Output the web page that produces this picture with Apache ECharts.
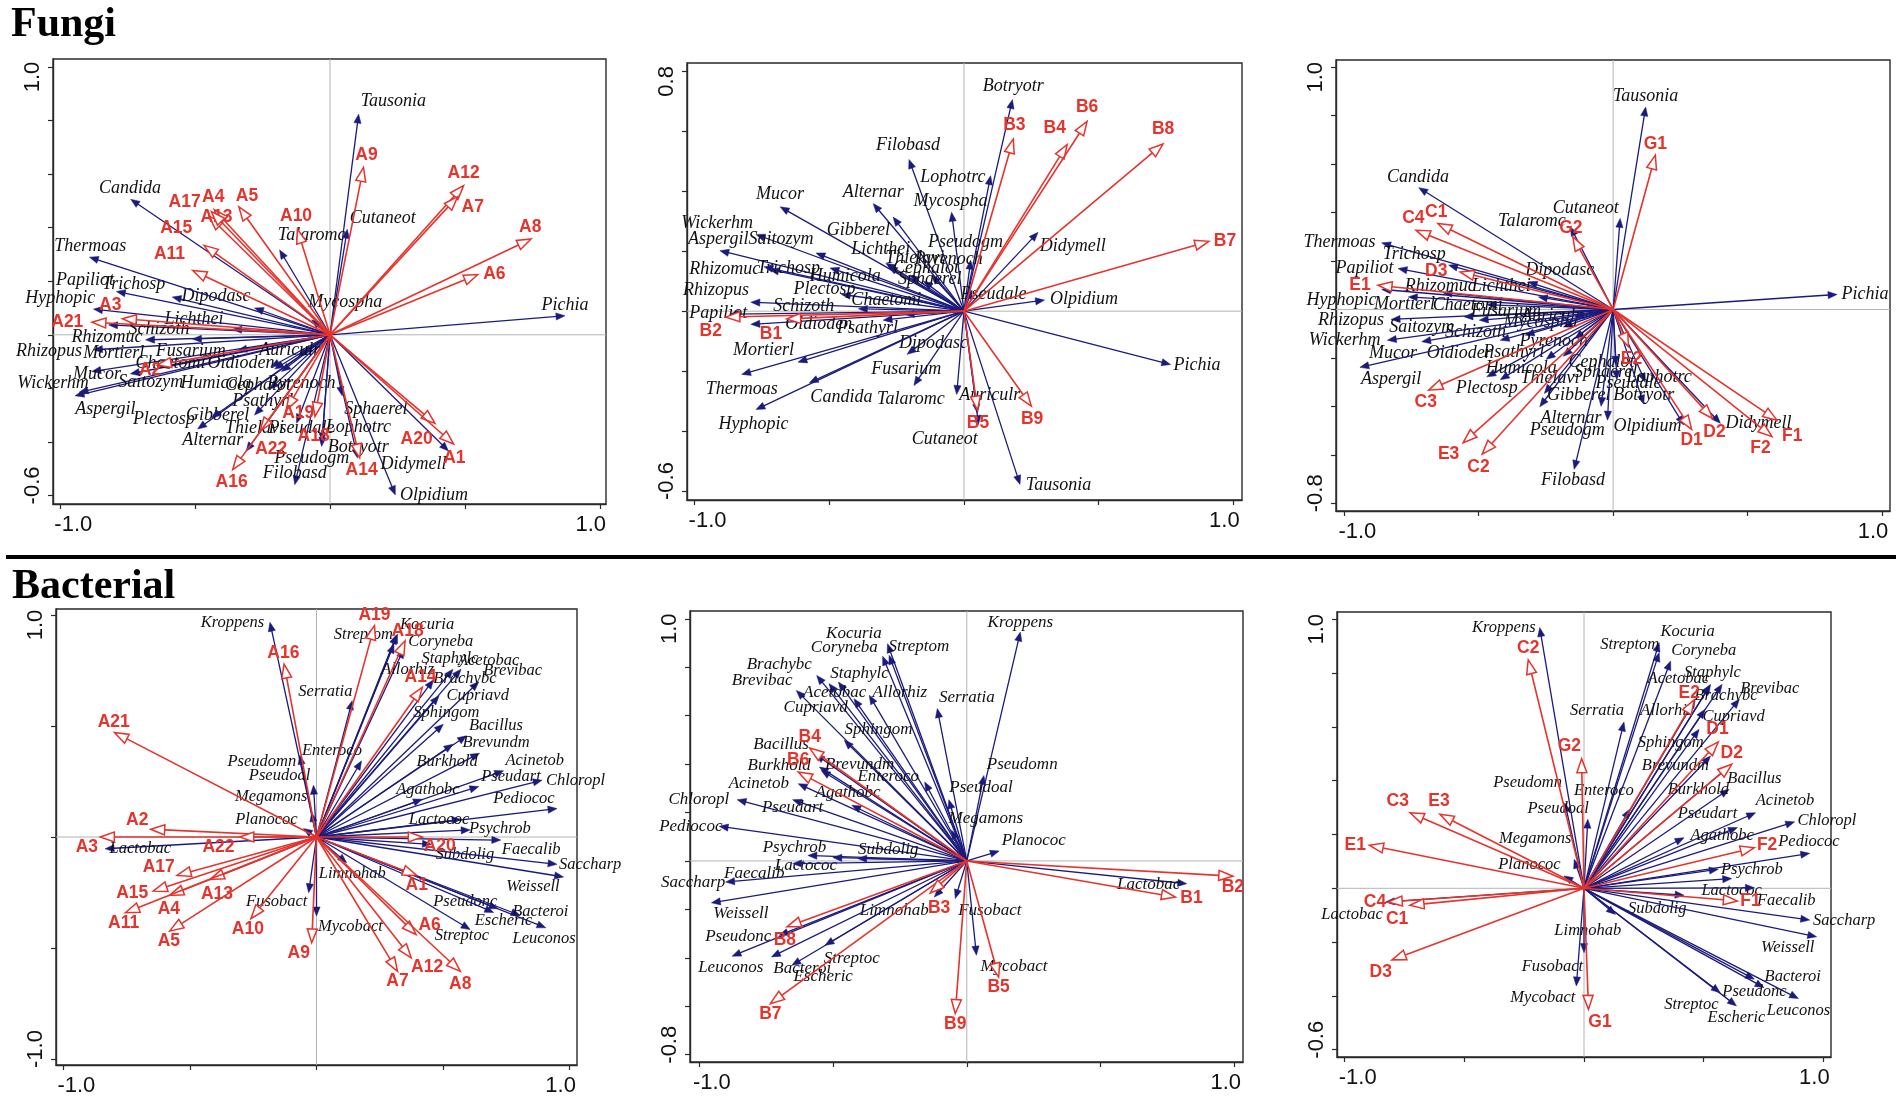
<!DOCTYPE html>
<html>
<head>
<meta charset="utf-8">
<script src="https://cdn.jsdelivr.net/npm/echarts@6/dist/echarts.min.js"></script>
<style>
html,body{margin:0;padding:0;background:#fff;}
#chart{width:1902px;height:1100px;}
</style>
</head>
<body>
<div id="chart"></div>
<script>
// ---------------- DATA ----------------
// Tick values shared by all panels on x
const xTickValues = [-1, -0.5, 0, 0.5, 1];
const xLabelValues = [-1, 1];

// Panel 1 (Fungi, group A) — species arrows [name, x, y]
const p1Species = [
  ['Tausonia',0.106,0.824],['Candida',-0.739,0.506],['Cutaneot',0.064,0.394],['Talaromc',-0.187,0.317],
  ['Mycospha',-0.068,0.056],['Pichia',0.871,0.071],['Olpidium',0.242,-0.598],['Didymell',0.439,-0.434],
  ['Sphaerel',0.045,-0.228],['Lophotrc',-0.03,-0.40],['Botryotr',0.102,-0.46],['Pseudogm',-0.031,-0.417],
  ['Filobasd',-0.131,-0.560],['Alternar',-0.491,-0.352],['Psathyrl',-0.224,-0.203],['Gibberel',-0.28,-0.30],
  ['Plectosp',-0.44,-0.31],['Thielavi',-0.311,-0.435],['Pseudale',-0.124,-0.330],['Aspergil',-0.945,-0.228],
  ['Wickerhm',-0.93,-0.215],['Mucor',-0.883,-0.137],['Saitozym',-0.740,-0.146],['Chaetomi',-0.63,-0.12],
  ['Rhizopus',-0.877,-0.056],['Mortierl',-0.51,-0.016],['Fusarium',-0.342,-0.058],['Oidioden',-0.205,-0.128],
  ['Humicola',-0.180,-0.137],['Cephalot',-0.22,-0.12],['Pyrenoch',-0.118,-0.081],['Auriculr',-0.10,-0.07],
  ['Rhizomuc',-0.684,-0.019],['Schizoth',-0.821,0.037],['Lichthei',-0.361,0.021],['Hyphopic',-0.877,0.096],
  ['Papiliot',-0.792,0.162],['Trichosp',-0.585,0.141],['Dipodasc',-0.280,0.100],['Thermoas',-0.892,0.290]
];
const p1SpeciesLabelAt = [
  [0.235,0.872],[-0.742,0.548],[0.195,0.436],[-0.068,0.373],
  [0.056,0.122],[0.871,0.112],[0.385,-0.601],[0.309,-0.485],
  [0.170,-0.280],[0.105,-0.344],[0.105,-0.421],[-0.068,-0.460],
  [-0.131,-0.519],[-0.435,-0.394],[-0.249,-0.249],[-0.417,-0.299],
  [-0.616,-0.315],[-0.280,-0.348],[-0.106,-0.348],[-0.833,-0.280],
  [-1.027,-0.181],[-0.864,-0.146],[-0.665,-0.178],[-0.591,-0.108],
  [-1.042,-0.062],[-0.802,-0.068],[-0.516,-0.062],[-0.330,-0.108],
  [-0.423,-0.180],[-0.267,-0.187],[-0.106,-0.180],[-0.149,-0.056],
  [-0.827,-0.009],[-0.634,0.019],[-0.504,0.058],[-1.0,0.135],
  [-0.908,0.205],[-0.728,0.187],[-0.423,0.143],[-0.889,0.332]
];
const p1Samples = [
  ['A9',0.124,0.625],['A12',0.495,0.557],['A7',0.473,0.516],['A8',0.745,0.358],['A6',0.548,0.225],
  ['A10',-0.121,0.394],['A5',-0.338,0.478],['A4',-0.429,0.467],['A13',-0.448,0.442],['A17',-0.44,0.46],
  ['A15',-0.467,0.334],['A11',-0.509,0.240],['A3',-0.770,0.060],['A21',-0.883,0.047],['A2',-0.641,-0.113],
  ['A19',-0.162,-0.280],['A18',-0.056,-0.305],['A22',-0.26,-0.36],['A16',-0.361,-0.504],['A14',0.11,-0.46],
  ['A20',0.389,-0.331],['A1',0.458,-0.408]
];
const p1SampleLabelAt = [
  [0.135,0.670],[0.495,0.603],[0.529,0.478],[0.742,0.403],[0.609,0.227],
  [-0.126,0.442],[-0.308,0.519],[-0.433,0.513],[-0.421,0.439],[-0.539,0.497],
  [-0.570,0.397],[-0.595,0.300],[-0.815,0.112],[-0.974,0.047],[-0.667,-0.132],
  [-0.118,-0.292],[-0.061,-0.380],[-0.218,-0.427],[-0.365,-0.549],[0.117,-0.504],
  [0.321,-0.389],[0.461,-0.460]
];

// Panel 2 (Fungi, group B)
const p2Species = [
  ['Botryotr',0.180,0.706],['Filobasd',-0.204,0.506],['Lophotrc',0.099,0.452],['Mycospha',-0.046,0.330],
  ['Alternar',-0.337,0.359],['Mucor',-0.682,0.348],['Gibberel',-0.263,0.314],['Didymell',0.275,0.263],
  ['Pseudogm',0.025,0.17],['Wickerhm',-0.772,0.256],['Aspergil',-0.906,0.202],['Saitozym',-0.549,0.194],
  ['Lichthei',-0.29,0.16],['Thielavi',-0.281,0.150],['Pyrenoch',-0.12,0.12],['Cephalot',-0.20,0.12],
  ['Sphaerel',-0.15,0.10],['Trichosp',-0.721,0.139],['Rhizomuc',-0.742,0.148],['Humicola',-0.497,0.144],
  ['Plectosp',-0.455,0.056],['Rhizopus',-0.791,0.030],['Schizoth',-0.392,0.008],['Chaetomi',-0.218,-0.011],
  ['Psathyrl',-0.30,-0.03],['Pseudale',0.03,0.07],['Olpidium',0.299,0.037],['Papiliot',-0.87,-0.01],
  ['Oidioden',-0.791,-0.044],['Dipodasc',-0.211,-0.144],['Mortierl',-0.616,-0.170],['Thermoas',-0.825,-0.211],
  ['Fusarium',-0.186,-0.248],['Candida',-0.574,-0.239],['Hyphopic',-0.772,-0.328],['Talaromc',-0.027,-0.278],
  ['Auriculr',0.05,-0.34],['Cutaneot',0.054,-0.378],['Tausonia',0.208,-0.578],['Pichia',0.767,-0.178]
];
const p2SpeciesLabelAt = [
  [0.183,0.750],[-0.208,0.552],[-0.041,0.447],[-0.050,0.367],
  [-0.337,0.397],[-0.683,0.389],[-0.392,0.270],[0.404,0.217],
  [0.006,0.230],[-0.916,0.294],[-0.912,0.239],[-0.679,0.239],
  [-0.309,0.206],[-0.183,0.178],[-0.057,0.172],[-0.141,0.144],
  [-0.127,0.106],[-0.651,0.144],[-0.888,0.141],[-0.441,0.117],
  [-0.518,0.072],[-0.920,0.070],[-0.595,0.017],[-0.288,0.037],
  [-0.358,-0.056],[0.110,0.056],[0.446,0.039],[-0.912,-0.008],
  [-0.539,-0.044],[-0.113,-0.106],[-0.744,-0.131],[-0.825,-0.259],
  [-0.214,-0.194],[-0.455,-0.286],[-0.781,-0.378],[-0.197,-0.294],
  [0.096,-0.280],[-0.071,-0.428],[0.351,-0.581],[0.865,-0.181]
];
const p2Samples = [
  ['B3',0.183,0.574],['B4',0.383,0.556],['B6',0.457,0.633],['B8',0.739,0.558],['B7',0.909,0.233],
  ['B9',0.250,-0.317],['B5',0.05,-0.33],['B2',-0.884,-0.020],['B1',-0.658,-0.026]
];
const p2SampleLabelAt = [
  [0.187,0.619],[0.337,0.611],[0.457,0.680],[0.739,0.606],[0.969,0.233],
  [0.253,-0.361],[0.052,-0.375],[-0.940,-0.067],[-0.716,-0.076]
];

// Panel 3 (Fungi, groups C–G)
const p3Species = [
  ['Tausonia',0.121,0.836],['Candida',-0.723,0.503],['Cutaneot',0.026,0.376],['Talaromc',-0.159,0.341],
  ['Thermoas',-0.861,0.275],['Trichosp',-0.612,0.183],['Papiliot',-0.800,0.169],['Dipodasc',-0.316,0.114],
  ['Lichthei',-0.278,0.052],['Rhizomuc',-0.633,0.069],['Hyphopic',-0.861,0.083],['Mortierl',-0.762,0.052],
  ['Chaetomi',-0.47,0.02],['Pichia',0.833,0.062],['Rhizopus',-0.826,-0.041],['Fusarium',-0.555,-0.030],
  ['Saitozym',-0.498,-0.044],['Mycospha',-0.185,-0.072],['Auriculr',-0.142,-0.030],['Schizoth',-0.420,-0.127],
  ['Wickerhm',-0.840,-0.127],['Mucor',-0.712,-0.133],['Oidioden',-0.327,-0.106],['Pyrenoch',-0.142,-0.120],
  ['Psathyrl',-0.249,-0.206],['Aspergil',-0.942,-0.239],['Humicola',-0.470,-0.278],['Cephalot',-0.185,-0.193],
  ['Thielavi',-0.256,-0.347],['Sphaerel',0.01,-0.23],['Pseudale',0.014,-0.29],['Lophotrc',0.12,-0.30],
  ['Plectosp',-0.42,-0.29],['Gibberel',-0.273,-0.402],['Botryotr',0.114,-0.391],['Alternar',-0.021,-0.457],
  ['Pseudogm',-0.045,-0.40],['Olpidium',0.263,-0.477],['Didymell',0.399,-0.470],['Filobasd',-0.145,-0.660]
];
const p3SpeciesLabelAt = [
  [0.121,0.880],[-0.726,0.547],[-0.102,0.417],[-0.302,0.366],
  [-1.018,0.276],[-0.740,0.228],[-0.925,0.169],[-0.199,0.160],
  [-0.416,0.096],[-0.643,0.094],[-1.011,0.039],[-0.776,0.022],
  [-0.541,0.018],[0.937,0.062],[-0.975,-0.044],[-0.399,-0.006],
  [-0.712,-0.072],[-0.270,-0.051],[-0.228,-0.030],[-0.512,-0.096],
  [-0.999,-0.127],[-0.819,-0.179],[-0.569,-0.179],[-0.221,-0.133],
  [-0.370,-0.175],[-0.826,-0.289],[-0.342,-0.243],[-0.043,-0.216],
  [-0.235,-0.285],[-0.028,-0.261],[0.057,-0.305],[0.171,-0.278],
  [-0.470,-0.326],[-0.128,-0.354],[0.114,-0.354],[-0.157,-0.450],
  [-0.171,-0.498],[0.128,-0.484],[0.541,-0.470],[-0.149,-0.704]
];
const p3Samples = [
  ['G1',0.157,0.637],['G2',-0.15,0.30],['C4',-0.733,0.327],['C1',-0.652,0.355],['D3',-0.569,0.155],
  ['E1',-0.875,0.100],['C3',-0.686,-0.333],['E3',-0.558,-0.550],['C2',-0.487,-0.597],['E2',0.057,-0.154],
  ['D1',0.292,-0.495],['D2',0.370,-0.450],['F1',0.609,-0.457],['F2',0.591,-0.525]
];
const p3SampleLabelAt = [
  [0.157,0.681],[-0.157,0.335],[-0.743,0.378],[-0.658,0.400],[-0.658,0.160],
  [-0.942,0.100],[-0.697,-0.384],[-0.612,-0.597],[-0.501,-0.649],[0.068,-0.206],
  [0.292,-0.539],[0.377,-0.505],[0.666,-0.523],[0.548,-0.574]
];

// Panel 4 (Bacterial, group A)
const p4Species = [
  ['Kroppens',-0.184,0.967],['Streptom',0.316,0.910],['Kocuria',0.320,0.914],['Coryneba',0.345,0.847],
  ['Allorhiz',0.306,0.869],['Staphylc',0.539,0.756],['Acetobac',0.571,0.756],['Brevibac',0.641,0.699],
  ['Brachybc',0.462,0.708],['Cupriavd',0.484,0.636],['Serratia',0.141,0.614],['Sphingom',0.501,0.508],
  ['Bacillus',0.593,0.456],['Brevundm',0.644,0.377],['Burkhold',0.539,0.418],['Enteroco',0.178,0.343],
  ['Acinetob',0.739,0.298],['Pseudomn',-0.066,0.368],['Pseudart',0.641,0.227],['Chloropl',0.891,0.256],
  ['Pseudoal',-0.012,0.233],['Agathobc',0.418,0.170],['Megamons',-0.019,0.110],['Pediococ',0.950,0.128],
  ['Lactococ',0.571,0.080],['Planococ',-0.052,0.038],['Psychrob',0.607,0.032],['Faecalib',0.728,-0.014],
  ['Subdolig',0.454,-0.033],['Lactobac',-0.835,-0.053],['Saccharp',0.950,-0.123],['Weissell',0.976,-0.180],
  ['Limnohab',0.119,-0.116],['Pseudonc',0.717,-0.323],['Bacteroi',0.804,-0.353],['Escheric',0.70,-0.34],
  ['Leuconos',0.906,-0.409],['Streptoc',0.607,-0.417],['Fusobact',-0.031,-0.251],['Mycobact',0.0,-0.356]
];
const p4SpeciesLabelAt = [
  [-0.332,0.967],[0.185,0.910],[0.437,0.955],[0.491,0.881],
  [0.360,0.756],[0.527,0.805],[0.680,0.794],[0.775,0.749],
  [0.586,0.711],[0.637,0.636],[0.035,0.656],[0.513,0.561],
  [0.709,0.501],[0.709,0.423],[0.516,0.338],[0.061,0.388],
  [0.862,0.343],[-0.216,0.338],[0.768,0.272],[1.023,0.256],
  [-0.146,0.278],[0.440,0.215],[-0.179,0.182],[0.819,0.173],
  [0.484,0.077],[-0.198,0.080],[0.724,0.038],[0.848,-0.059],
  [0.586,-0.078],[-0.696,-0.053],[1.081,-0.126],[0.855,-0.224],
  [0.141,-0.165],[0.588,-0.289],[0.884,-0.338],[0.739,-0.379],
  [0.899,-0.457],[0.574,-0.444],[-0.157,-0.289],[0.134,-0.406]
];
const p4Samples = [
  ['A19',0.229,0.952],['A18',0.350,0.884],['A16',-0.128,0.779],['A14',0.418,0.674],['A21',-0.798,0.471],
  ['A2',-0.655,0.035],['A3',-0.854,0.0],['A22',-0.303,0.0],['A20',0.418,0.0],['A17',-0.551,-0.173],
  ['A15',-0.645,-0.244],['A4',-0.580,-0.263],['A13',-0.420,-0.191],['A11',-0.755,-0.341],['A5',-0.580,-0.424],
  ['A10',-0.259,-0.368],['A9',-0.019,-0.477],['A1',0.396,-0.173],['A6',0.393,-0.439],['A7',0.320,-0.605],
  ['A12',0.374,-0.544],['A8',0.568,-0.605]
];
const p4SampleLabelAt = [
  [0.229,0.997],[0.360,0.925],[-0.131,0.829],[0.411,0.719],[-0.801,0.519],
  [-0.708,0.077],[-0.907,-0.048],[-0.387,-0.044],[0.487,-0.041],[-0.623,-0.135],
  [-0.728,-0.251],[-0.583,-0.323],[-0.393,-0.259],[-0.762,-0.386],[-0.583,-0.469],
  [-0.271,-0.417],[-0.070,-0.522],[0.396,-0.218],[0.447,-0.398],[0.320,-0.650],
  [0.437,-0.585],[0.568,-0.662]
];

// Panel 5 (Bacterial, group B)
const p5Species = [
  ['Kroppens',0.2,0.945],['Kocuria',-0.29,0.849],['Streptom',-0.296,0.897],['Coryneba',-0.314,0.845],
  ['Staphylc',-0.479,0.739],['Brachybc',-0.560,0.766],['Brevibac',-0.636,0.704],['Acetobac',-0.514,0.732],
  ['Allorhiz',-0.364,0.684],['Cupriavd',-0.421,0.670],['Serratia',-0.11,0.629],['Sphingom',-0.457,0.498],
  ['Bacillus',-0.564,0.440],['Burkhold',-0.55,0.388],['Brevundm',-0.543,0.374],['Enteroco',-0.157,0.326],
  ['Pseudomn',0.064,0.353],['Acinetob',-0.629,0.319],['Agathobc',-0.429,0.230],['Pseudoal',-0.067,0.253],
  ['Pseudart',-0.65,0.253],['Chloropl',-0.857,0.253],['Pediococ',-0.924,0.143],['Megamons',-0.057,0.127],
  ['Planococ',0.121,0.041],['Psychrob',-0.593,0.023],['Subdolig',-0.407,0.010],['Lactococ',-0.5,0.014],
  ['Faecalib',-0.65,-0.011],['Saccharp',-0.9,-0.087],['Weissell',-0.953,-0.173],['Lactobac',0.821,-0.094],
  ['Limnohab',-0.121,-0.149],['Fusobact',-0.043,-0.155],['Pseudonc',-0.7,-0.307],['Leuconos',-0.876,-0.393],
  ['Bacteroi',-0.729,-0.396],['Streptoc',-0.529,-0.348],['Escheric',-0.653,-0.431],['Mycobact',0.036,-0.389]
];
const p5SpeciesLabelAt = [
  [0.2,0.986],[-0.421,0.938],[-0.179,0.887],[-0.457,0.883],
  [-0.4,0.773],[-0.7,0.812],[-0.764,0.746],[-0.493,0.697],
  [-0.25,0.697],[-0.564,0.633],[0,0.674],[-0.329,0.542],
  [-0.693,0.481],[-0.7,0.395],[-0.4,0.399],[-0.293,0.349],
  [0.207,0.399],[-0.776,0.319],[-0.443,0.281],[0.053,0.305],
  [-0.65,0.220],[-1.0,0.253],[-1.03,0.143],[0.071,0.175],
  [0.25,0.083],[-0.643,0.055],[-0.293,0.047],[-0.6,-0.018],
  [-0.793,-0.052],[-1.021,-0.091],[-0.843,-0.215],[0.679,-0.096],
  [-0.271,-0.204],[0.086,-0.204],[-0.853,-0.311],[-0.881,-0.44],
  [-0.614,-0.444],[-0.429,-0.403],[-0.536,-0.479],[0.176,-0.437]
];
const p5Samples = [
  ['B4',-0.586,0.466],['B6',-0.629,0.367],['B8',-0.671,-0.272],['B7',-0.733,-0.589],['B3',-0.136,-0.132],
  ['B9',-0.043,-0.630],['B5',0.119,-0.479],['B1',0.779,-0.149],['B2',0.993,-0.063]
];
const p5SampleLabelAt = [
  [-0.586,0.512],[-0.629,0.415],[-0.679,-0.327],[-0.733,-0.634],[-0.103,-0.193],
  [-0.043,-0.674],[0.119,-0.52],[0.839,-0.155],[0.993,-0.107]
];

// Panel 6 (Bacterial, groups C–G)
const p6Species = [
  ['Kroppens',-0.185,0.969],['Streptom',0.314,0.913],['Kocuria',0.314,0.876],['Coryneba',0.362,0.845],
  ['Acetobac',0.529,0.758],['Staphylc',0.525,0.752],['Brachybc',0.577,0.758],['Brevibac',0.649,0.703],
  ['Allorhiz',0.465,0.703],['Cupriavd',0.505,0.665],['Serratia',0.167,0.618],['Sphingom',0.481,0.591],
  ['Brevundm',0.529,0.492],['Bacillus',0.601,0.449],['Burkhold',0.606,0.368],['Enteroco',0.191,0.294],
  ['Pseudomn',-0.080,0.318],['Pseudoal',0.016,0.257],['Acinetob',0.717,0.281],['Pseudart',0.641,0.226],
  ['Chloropl',0.880,0.247],['Agathobc',0.418,0.188],['Megamons',-0.041,0.108],['Pediococ',0.943,0.130],
  ['Planococ',-0.084,0.046],['Psychrob',0.561,0.071],['Lactococ',0.617,0.036],['Faecalib',0.712,0.002],
  ['Subdolig',0.418,-0.026],['Saccharp',0.943,-0.118],['Weissell',0.972,-0.180],['Lactobac',-0.829,-0.051],
  ['Limnohab',0.131,-0.097],['Fusobact',0.0,-0.239],['Mycobact',-0.032,-0.363],['Bacteroi',0.712,-0.338],
  ['Pseudonc',0.752,-0.369],['Leuconos',0.896,-0.410],['Streptoc',0.569,-0.388],['Escheric',0.637,-0.437]
];
const p6SpeciesLabelAt = [
  [-0.335,0.969],[0.191,0.907],[0.433,0.954],[0.5,0.882],
  [0.394,0.781],[0.537,0.802],[0.593,0.715],[0.776,0.742],
  [0.346,0.659],[0.625,0.638],[0.054,0.659],[0.362,0.541],
  [0.382,0.455],[0.712,0.409],[0.478,0.368],[0.083,0.362],
  [-0.236,0.393],[-0.108,0.296],[0.840,0.325],[0.516,0.279],
  [1.015,0.250],[0.577,0.195],[-0.204,0.186],[0.940,0.172],
  [-0.228,0.089],[0.701,0.071],[0.617,-0.010],[0.845,-0.047],
  [0.306,-0.076],[1.087,-0.121],[0.851,-0.221],[-0.969,-0.097],
  [0.016,-0.159],[-0.132,-0.291],[-0.172,-0.406],[0.872,-0.328],
  [0.712,-0.385],[0.896,-0.456],[0.449,-0.431],[0.637,-0.481]
];
const p6Samples = [
  ['C2',-0.233,0.849],['G2',-0.010,0.482],['E2',0.46,0.70],['D1',0.561,0.544],['D2',0.617,0.461],
  ['C3',-0.727,0.281],['E3',-0.602,0.275],['E1',-0.897,0.160],['F2',0.712,0.151],['F1',0.641,-0.047],
  ['C4',-0.818,-0.051],['C1',-0.727,-0.063],['D3',-0.802,-0.266],['G1',0.019,-0.450]
];
const p6SampleLabelAt = [
  [-0.233,0.891],[-0.061,0.527],[0.44,0.727],[0.558,0.591],[0.617,0.504],
  [-0.778,0.325],[-0.606,0.325],[-0.956,0.160],[0.765,0.160],[0.696,-0.047],
  [-0.873,-0.051],[-0.781,-0.115],[-0.849,-0.311],[0.067,-0.497]
];

// y tick values and labelled ends per panel
const p1YTicks = [-0.6,-0.4,-0.2,0,0.2,0.4,0.6,0.8,1.0];
const p2YTicks = [-0.6,-0.4,-0.2,0,0.2,0.4,0.6,0.8];
const p3YTicks = [-0.8,-0.6,-0.4,-0.2,0,0.2,0.4,0.6,0.8,1.0];
const p4YTicks = [-1,-0.5,0,0.5,1];
const p5YTicks = [-0.8,-0.6,-0.4,-0.2,0,0.2,0.4,0.6,0.8,1.0];
const p6YTicks = [-0.6,-0.4,-0.2,0,0.2,0.4,0.6,0.8,1.0];

// ---------------- LAYOUT / STYLE ----------------
const BLUE = '#1b1b7e';
const RED = '#e6332c';
const panels = [
  {grid:{left:53,top:59,width:553,height:445}, x:[-1.027,1.023], y:[-0.632,1.03], yt:p1YTicks,
   sp:p1Species, spl:p1SpeciesLabelAt, sm:p1Samples, sml:p1SampleLabelAt, spFont:18},
  {grid:{left:687,top:63,width:555,height:437}, x:[-1.028,1.032], y:[-0.63,0.828], yt:p2YTicks,
   sp:p2Species, spl:p2SpeciesLabelAt, sm:p2Samples, sml:p2SampleLabelAt, spFont:18},
  {grid:{left:1336,top:60,width:554,height:451}, x:[-1.031,1.030], y:[-0.832,1.030], yt:p3YTicks,
   sp:p3Species, spl:p3SpeciesLabelAt, sm:p3Samples, sml:p3SampleLabelAt, spFont:18},
  {grid:{left:56,top:609,width:521,height:456}, x:[-1.029,1.029], y:[-1.027,1.027], yt:p4YTicks,
   sp:p4Species, spl:p4SpeciesLabelAt, sm:p4Samples, sml:p4SampleLabelAt, spFont:16.5},
  {grid:{left:690,top:611,width:553,height:451}, x:[-1.033,1.031], y:[-0.830,1.032], yt:p5YTicks,
   sp:p5Species, spl:p5SpeciesLabelAt, sm:p5Samples, sml:p5SampleLabelAt, spFont:17},
  {grid:{left:1337,top:612,width:494,height:445}, x:[-1.032,1.032], y:[-0.627,1.027], yt:p6YTicks,
   sp:p6Species, spl:p6SpeciesLabelAt, sm:p6Samples, sml:p6SampleLabelAt, spFont:16.5}
];

function fmt(v){ return (Math.abs(v) < 1e-9 ? 0 : v).toFixed(1); }

function arrowRenderer(items, kind, fontSize){
  return function(params, api){
    const o = api.coord([0,0]);
    const t = api.coord([api.value(0), api.value(1)]);
    const l = api.coord([api.value(2), api.value(3)]);
    const dx = t[0]-o[0], dy = t[1]-o[1];
    const len = Math.hypot(dx,dy) || 1;
    const ux = dx/len, uy = dy/len, px = -uy, py = ux;
    const isS = kind === 'sample';
    const H = isS ? 14 : 9, W = isS ? 5 : 3.6;
    const color = isS ? RED : BLUE;
    const bx = t[0]-ux*H, by = t[1]-uy*H;
    const endX = isS ? bx : t[0]-ux*H*0.5, endY = isS ? by : t[1]-uy*H*0.5;
    return {type:'group', children:[
      {type:'line', shape:{x1:o[0],y1:o[1],x2:endX,y2:endY}, style:{stroke:color, lineWidth:isS?1.6:1.3}},
      {type:'polygon', shape:{points:[[t[0],t[1]],[bx+px*W,by+py*W],[bx-px*W,by-py*W]]},
        style: isS ? {fill:'#ffffff', stroke:color, lineWidth:1.5} : {fill:color, stroke:color, lineWidth:0.5}},
      {type:'text', x:l[0], y:l[1], style:{
        text: items[params.dataIndex][0],
        fill: isS ? RED : '#111',
        font: isS ? ('bold '+fontSize+'px "Liberation Sans", Arial, sans-serif')
                  : ('italic '+fontSize+'px "Liberation Serif", "Times New Roman", serif'),
        align:'center', verticalAlign:'middle'}}
    ]};
  };
}

const grids = [], xAxes = [], yAxes = [], series = [];
panels.forEach((p, i) => {
  grids.push(Object.assign({show:true, borderColor:'#2a2a2a', borderWidth:1.4, backgroundColor:'#fff',
    containLabel:false, outerBoundsMode:'none'}, p.grid));
  const xLo = xLabelValues[0];
  xAxes.push({gridIndex:i, type:'value', min:p.x[0], max:p.x[1],
    axisLine:{show:true, onZero:false, lineStyle:{color:'#2a2a2a', width:1.4}},
    axisTick:{show:true, inside:false, length:5, customValues:xTickValues, lineStyle:{color:'#2a2a2a', width:1.2}},
    axisLabel:{show:true, customValues:xLabelValues, margin:10, color:'#111', fontSize:22,
      fontFamily:'"Liberation Sans", Arial, sans-serif',
      formatter:(v)=> Math.abs(v-xLo)<1e-6 ? '{lo|'+fmt(v)+'}' : '{hi|'+fmt(v)+'}',
      rich:{lo:{padding:[0,0,0,26], fontSize:22, color:'#111', fontFamily:'"Liberation Sans", Arial, sans-serif'},
            hi:{padding:[0,18,0,0], fontSize:22, color:'#111', fontFamily:'"Liberation Sans", Arial, sans-serif'}}},
    splitLine:{show:false}});
  const yLo = p.yt[0], yHi = p.yt[p.yt.length-1];
  yAxes.push({gridIndex:i, type:'value', min:p.y[0], max:p.y[1],
    axisLine:{show:true, onZero:false, lineStyle:{color:'#2a2a2a', width:1.4}},
    axisTick:{show:true, inside:false, length:5, customValues:p.yt, lineStyle:{color:'#2a2a2a', width:1.2}},
    axisLabel:{show:true, customValues:[yLo, yHi], rotate:90, margin:9, color:'#111', fontSize:22,
      fontFamily:'"Liberation Sans", Arial, sans-serif',
      formatter:(v)=> Math.abs(v-yLo)<1e-6 ? '{lo|'+fmt(v)+'}' : '{hi|'+fmt(v)+'}',
      rich:{lo:{padding:[0,0,0,20], fontSize:22, color:'#111', fontFamily:'"Liberation Sans", Arial, sans-serif'},
            hi:{padding:[0,20,0,0], fontSize:22, color:'#111', fontFamily:'"Liberation Sans", Arial, sans-serif'}}},
    splitLine:{show:false}});
  // zero reference lines
  series.push({type:'custom', xAxisIndex:i, yAxisIndex:i, data:[[0,0]], silent:true, z:1, clip:false,
    renderItem:function(params, api){
      const cs = params.coordSys; const o = api.coord([0,0]);
      return {type:'group', children:[
        {type:'line', shape:{x1:cs.x, y1:o[1], x2:cs.x+cs.width, y2:o[1]}, style:{stroke:'#b4b4b4', lineWidth:1}},
        {type:'line', shape:{x1:o[0], y1:cs.y, x2:o[0], y2:cs.y+cs.height}, style:{stroke:'#b4b4b4', lineWidth:1}}
      ]};
    }});
  series.push({type:'custom', name:'species'+(i+1), xAxisIndex:i, yAxisIndex:i, z:2, clip:false,
    data: p.sp.map((d,k)=>({name:d[0], value:[d[1], d[2], p.spl[k][0], p.spl[k][1]]})),
    encode:{x:0, y:1}, renderItem: arrowRenderer(p.sp, 'species', p.spFont)});
  series.push({type:'custom', name:'samples'+(i+1), xAxisIndex:i, yAxisIndex:i, z:3, clip:false,
    data: p.sm.map((d,k)=>({name:d[0], value:[d[1], d[2], p.sml[k][0], p.sml[k][1]]})),
    encode:{x:0, y:1}, renderItem: arrowRenderer(p.sm, 'sample', 17.5)});
});

const chart = echarts.init(document.getElementById('chart'), null, {renderer:'canvas'});
chart.setOption({
  backgroundColor:'#ffffff',
  animation:false,
  title:[
    {text:'Fungi', left:11, top:4, padding:0,
     textStyle:{fontFamily:'"Liberation Serif", "Times New Roman", serif', fontWeight:'bold', fontSize:42, color:'#000'}},
    {text:'Bacterial', left:12, top:566, padding:0,
     textStyle:{fontFamily:'"Liberation Serif", "Times New Roman", serif', fontWeight:'bold', fontSize:42, color:'#000'}}
  ],
  graphic:[{type:'rect', shape:{x:6, y:555, width:1890, height:4}, style:{fill:'#000'}, silent:true}],
  grid:grids, xAxis:xAxes, yAxis:yAxes, series:series
});
</script>
</body>
</html>
